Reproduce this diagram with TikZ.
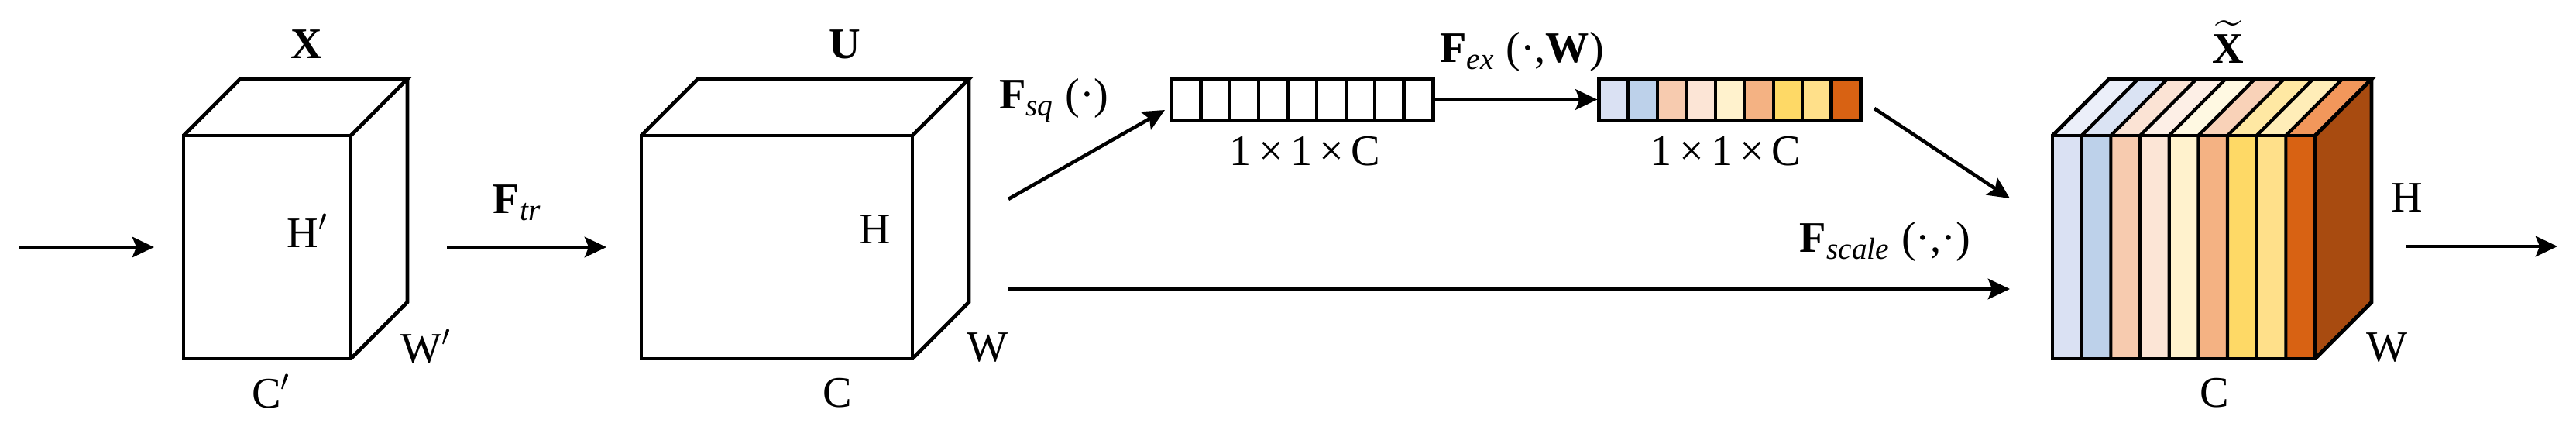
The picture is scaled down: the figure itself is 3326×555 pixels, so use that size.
\documentclass[tikz,border=0pt]{standalone}
\usepackage{amsmath}
\usepackage{fontspec}
\setmainfont{Liberation Serif}
\usetikzlibrary{arrows.meta}

% channel colours (front / top of the slices)
\definecolor{fA}{HTML}{DAE1F3}\definecolor{tA}{HTML}{EBEFF9}
\definecolor{fB}{HTML}{BDD1EA}\definecolor{tB}{HTML}{DAE3F3}
\definecolor{fC}{HTML}{F7CBAF}\definecolor{tC}{HTML}{FBE3D4}
\definecolor{fD}{HTML}{FCE5D6}\definecolor{tD}{HTML}{FDEFE6}
\definecolor{fE}{HTML}{FFF2CD}\definecolor{tE}{HTML}{FFF9E2}
\definecolor{fF}{HTML}{F4B283}\definecolor{tF}{HTML}{F9D2B8}
\definecolor{fG}{HTML}{FED966}\definecolor{tG}{HTML}{FFE8A3}
\definecolor{fH}{HTML}{FFE08A}\definecolor{tH}{HTML}{FFEDB8}
\definecolor{fI}{HTML}{D86213}\definecolor{tI}{HTML}{F2975B}
\definecolor{sideface}{HTML}{A84B10}

\tikzset{
  edge/.style={line width=1.4pt},
  thinedge/.style={line width=1.2pt},
  flow/.style={line width=1.3pt,-{Stealth[length=8pt,width=7.5pt,inset=1.5pt]}},
  lbl/.style={font=\fontsize{16}{19}\selectfont,inner sep=0pt},
  bar/.style={draw,line width=1.4pt,minimum width=3.37cm,minimum height=0.53cm,inner sep=0pt}
}

\begin{document}
\begin{tikzpicture}[x=0.01cm,y=-0.01cm]
\useasboundingbox (0,0) rectangle (3326,555);
% X
 \draw[edge] (237,175) rectangle (453,463);
 \draw[edge] (237,175) -- (310,102) -- (526,102) -- (453,175);
 \draw[edge] (526,102) -- (526,390) -- (453,463);
 \node[lbl] (lx) at (396,57) {\textbf{X}};
 \node[lbl] (lhx) at (397,298) {H$'$};
 \node[lbl] (lwx) at (550,447) {W$'$};
 \node[lbl] (lcx) at (350,505) {C$'$};
% U
 \draw[edge] (828,175) rectangle (1178,463);
 \draw[edge] (828,175) -- (901,102) -- (1251,102) -- (1178,175);
 \draw[edge] (1251,102) -- (1251,390) -- (1178,463);
 \node[lbl] (lu) at (1091,57) {\textbf{U}};
 \node[lbl] (lhu) at (1130,296) {H};
 \node[lbl] (lwu) at (1275,449) {W};
 \node[lbl] (lcu) at (1081,507) {C};
% squeeze vector
 \node[bar] (z) at (1681.5,128.5) {};
 \foreach \i in {1,...,8}
   \draw[thinedge] (1513+\i*37.44,102) -- ++(0,53);
 \node[lbl] (lz) at (1685,195) {1\,×\,1\,×\,C};
% excitation vector
 \foreach \c [count=\i from 0] in {fA,fB,fC,fD,fE,fF,fG,fH,fI}
   \fill[\c] (2065+\i*37.44,102) rectangle ++(37.44,53);
 \node[bar] (s) at (2233.5,128.5) {};
 \foreach \i in {1,...,8}
   \draw[thinedge] (2065+\i*37.44,102) -- ++(0,53);
 \node[lbl] (ls) at (2228,195) {1\,×\,1\,×\,C};
% X tilde
 \foreach \cf/\ct [count=\i from 0] in {fA/tA,fB/tB,fC/tC,fD/tD,fE/tE,fF/tF,fG/tG,fH/tH,fI/tI}{
   \fill[\cf] (2650+\i*37.67,175) rectangle ++(37.67,288);
   \fill[\ct] (2650+\i*37.67,175) -- ++(73,-73) -- ++(37.67,0) -- ++(-73,73) -- cycle;
 }
 \fill[sideface] (2989,175) -- (3062,102) -- (3062,390) -- (2989,463) -- cycle;
 \foreach \i in {1,...,8}
   \draw[thinedge] (2650+\i*37.67,463) -- ++(0,-288) -- ++(73,-73);
 \draw[edge] (2650,175) rectangle (2989,463);
 \draw[edge] (2650,175) -- (2723,102) -- (3062,102) -- (2989,175);
 \draw[edge] (3062,102) -- (3062,390) -- (2989,463);
 \node[lbl] (lxt) at (2877,54) {$\widetilde{\textbf{X}}$};
 \node[lbl] (lht) at (3108,255) {H};
 \node[lbl] (lwt) at (3082,449) {W};
 \node[lbl] (lct) at (2859,507) {C};
% operators
 \node[lbl] (ltr) at (668,262) {\textbf{F}\textsubscript{\textit{tr}}};
 \node[lbl] (lsq) at (1361,130) {\textbf{F}\textsubscript{\textit{sq}} (·)};
 \node[lbl] (lex) at (1965,67) {\textbf{F}\textsubscript{\textit{ex}} (·,\textbf{W})};
 \node[lbl] (lsc) at (2434,312) {\textbf{F}\textsubscript{\textit{scale}} (·,·)};
% arrows
 \coordinate (in) at (25,319);
 \coordinate (xin) at (199,319);
 \coordinate (xout) at (577,319);
 \coordinate (uin) at (783,319);
 \coordinate (usq) at (1302,257);
 \coordinate (zin) at (1504,142);
 \coordinate (usc) at (1301,373);
 \coordinate (xtsc) at (2595,373);
 \coordinate (sout) at (2420,140);
 \coordinate (xtex) at (2595,256);
 \coordinate (xtout) at (3107,318);
 \coordinate (out) at (3302,318);
 \draw[flow] (in) -- (xin);
 \draw[flow] (xout) -- (uin);
 \draw[flow] (usq) -- (zin);
 \draw[flow] (z.east) -- (s.west);
 \draw[flow] (sout) -- (xtex);
 \draw[flow] (usc) -- (xtsc);
 \draw[flow] (xtout) -- (out);
\end{tikzpicture}
\end{document}
